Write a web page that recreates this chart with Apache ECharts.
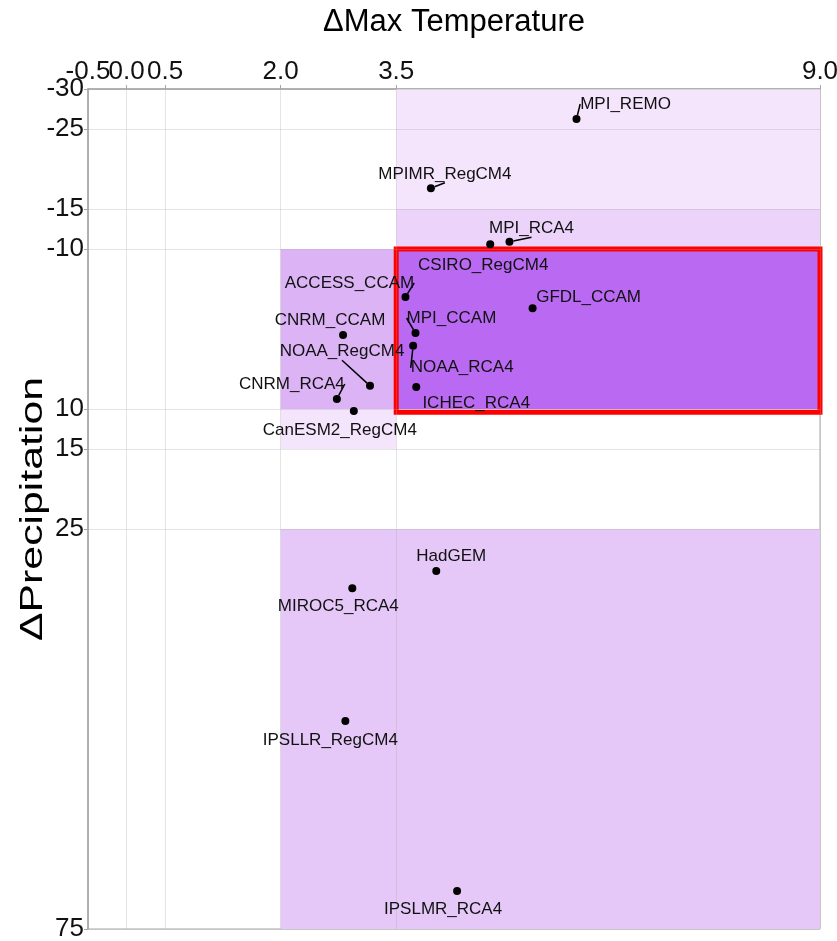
<!DOCTYPE html>
<html><head><meta charset="utf-8">
<script src="https://cdn.jsdelivr.net/npm/echarts@6/dist/echarts.min.js"></script>
<style>html,body{margin:0;padding:0;background:#fff}#c{width:837px;height:941px}</style>
</head><body><div id="c"></div>
<script>
// ---- data ----
const modelNames = ['MPI_REMO','MPIMR_RegCM4','MPI_RCA4','CSIRO_RegCM4','ACCESS_CCAM','GFDL_CCAM','CNRM_CCAM','MPI_CCAM','NOAA_RegCM4','NOAA_RCA4','CNRM_RCA4','ICHEC_RCA4','CanESM2_RegCM4','HadGEM','MIROC5_RCA4','IPSLLR_RegCM4','IPSLMR_RCA4'];
const maxTempChange = [5.84, 3.95, 4.97, 4.72, 3.62, 5.27, 2.81, 3.75, 3.16, 3.72, 2.73, 3.76, 2.95, 4.02, 2.93, 2.84, 4.29];
const precipChange = [-26.25, -17.6, -10.9, -10.6, -4.0, -2.6, 0.75, 0.5, 7.1, 2.1, 8.75, 7.25, 10.25, 30.25, 32.4, 49.0, 70.25];
const xTicks = [-0.5, 0.0, 0.5, 2.0, 3.5, 9.0];
const xTickLabels = ['-0.5', '0.0', '0.5', '2.0', '3.5', '9.0'];
const yTicks = [-30, -25, -15, -10, 10, 15, 25, 75];
const yTickLabels = ['-30', '-25', '-15', '-10', '10', '15', '25', '75'];
// shaded zones: [xFrom, xTo] and [yFrom, yTo]
const zoneTemp = [[3.5, 9.0], [3.5, 9.0], [2.0, 3.5], [3.5, 9.0], [2.0, 3.5], [2.0, 9.0]];
const zonePrecip = [[-30, -15], [-15, -10], [-10, 10], [-10, 10], [10, 15], [25, 75]];
const highlightTemp = [3.5, 9.0];
const highlightPrecip = [-10, 10.4];

// ---- styles ----
const zoneColors = ['#f4e4fc', '#ecd3fa', '#dcb4f6', '#b969f2', '#f4e4fc', '#e6c8f8'];
const labelOffsets = [[49,-15],[14,-14],[22,-13],[-7,21],[-56,-14],[56,-11],[-13,-15],[36,-15],[-28,-34],[49,22],[-45,-15],[60,16],[-14,19],[15,-15],[-14,18],[-15,19],[-14,18]];
const labelLineShown = [true,true,true,false,true,false,false,true,true,true,true,false,false,false,false,false,false];
const sans = '"Liberation Sans", Arial, sans-serif';
const axisGray = '#a6a6a6';
const tickLabelStyle = {fontFamily: sans, fontSize: 26, color: '#111', margin: 4};

const fmtX = v => xTickLabels[xTicks.indexOf(+v)] ?? String(v);
const fmtY = v => yTickLabels[yTicks.indexOf(+v)] ?? String(v);

const chart = echarts.init(document.getElementById('c'), null, {renderer: 'canvas'});
const option = {
  animation: false,
  backgroundColor: '#fff',
  grid: {left: 88, right: 17, top: 89, bottom: 12, show: true, borderColor: axisGray, borderWidth: 1, containLabel: false, outerBoundsMode: 'none'},
  xAxis: [{
    type: 'value', position: 'top', min: -0.5, max: 9.0,
    name: 'ΔMax Temperature', nameLocation: 'middle', nameGap: 51, nameMoveOverlap: false,
    nameTextStyle: {fontFamily: sans, fontSize: 31, color: '#000'},
    axisLine: {show: true, onZero: false, lineStyle: {color: axisGray, width: 1.5}},
    axisTick: {show: true, customValues: xTicks, length: 4, lineStyle: {color: axisGray}},
    axisLabel: Object.assign({customValues: xTicks, showMinLabel: false, showMaxLabel: true, hideOverlap: false, formatter: fmtX}, tickLabelStyle),
    splitLine: {show: false}
  }, {
    // carries only the first (overlapping) tick label so the library does not drop its neighbour
    type: 'value', position: 'top', min: -0.5, max: 9.0,
    axisLine: {show: false, onZero: false},
    axisTick: {show: false},
    axisLabel: Object.assign({customValues: xTicks.slice(0, 1), showMinLabel: true, hideOverlap: false, formatter: fmtX}, tickLabelStyle),
    splitLine: {show: false}
  }],
  yAxis: {
    type: 'value', inverse: true, min: -30, max: 75,
    axisLine: {show: true, onZero: false, lineStyle: {color: axisGray, width: 1.5}},
    axisTick: {show: true, customValues: yTicks, length: 4, lineStyle: {color: axisGray}},
    axisLabel: Object.assign({customValues: yTicks, showMinLabel: true, showMaxLabel: true, hideOverlap: false, formatter: fmtY}, tickLabelStyle),
    splitLine: {show: false}
  },
  graphic: [{
    type: 'text', x: 33, y: 509, rotation: Math.PI / 2, scaleX: 1.38,
    style: {text: 'ΔPrecipitation', font: '31px "Liberation Sans", Arial, sans-serif', fill: '#000', align: 'center', verticalAlign: 'middle'}
  }],
  series: [
    {
      type: 'scatter', data: [], silent: true, z: 1,
      markArea: {
        silent: true,
        data: zoneTemp.map((t, i) => [
          {xAxis: t[0], yAxis: zonePrecip[i][0], itemStyle: {color: zoneColors[i], opacity: 1}},
          {xAxis: t[1], yAxis: zonePrecip[i][1]}
        ])
      }
    },
    {
      type: 'scatter', data: [], silent: true, z: 2,
      markLine: {
        silent: true, symbol: 'none', animation: false,
        label: {show: false},
        lineStyle: {color: 'rgba(170,170,170,0.3)', type: 'solid', width: 1},
        data: xTicks.map(v => ({xAxis: v})).concat(yTicks.map(v => ({yAxis: v})))
      }
    },
    {
      type: 'scatter', data: [], silent: true, z: 3,
      markArea: {
        silent: true,
        data: [[
          {xAxis: highlightTemp[0], yAxis: highlightPrecip[0], itemStyle: {color: 'rgba(0,0,0,0)', borderColor: '#ff0000', borderWidth: 5}},
          {xAxis: highlightTemp[1], yAxis: highlightPrecip[1]}
        ]]
      }
    },
    {
      type: 'scatter', z: 10, symbol: 'circle', symbolSize: 8,
      itemStyle: {color: '#000', opacity: 1},
      data: modelNames.map((n, i) => ({name: n, value: [maxTempChange[i], precipChange[i]], labelLine: {show: labelLineShown[i]}})),
      label: {show: true, position: 'inside', formatter: '{b}', fontFamily: sans, fontSize: 17, color: '#111', textBorderWidth: 0},
      labelLine: {show: true, lineStyle: {color: '#000', width: 1.5}},
      labelLayout: p => ({dx: labelOffsets[p.dataIndex][0], dy: labelOffsets[p.dataIndex][1]})
    }
  ]
};
chart.setOption(option);
</script></body></html>
